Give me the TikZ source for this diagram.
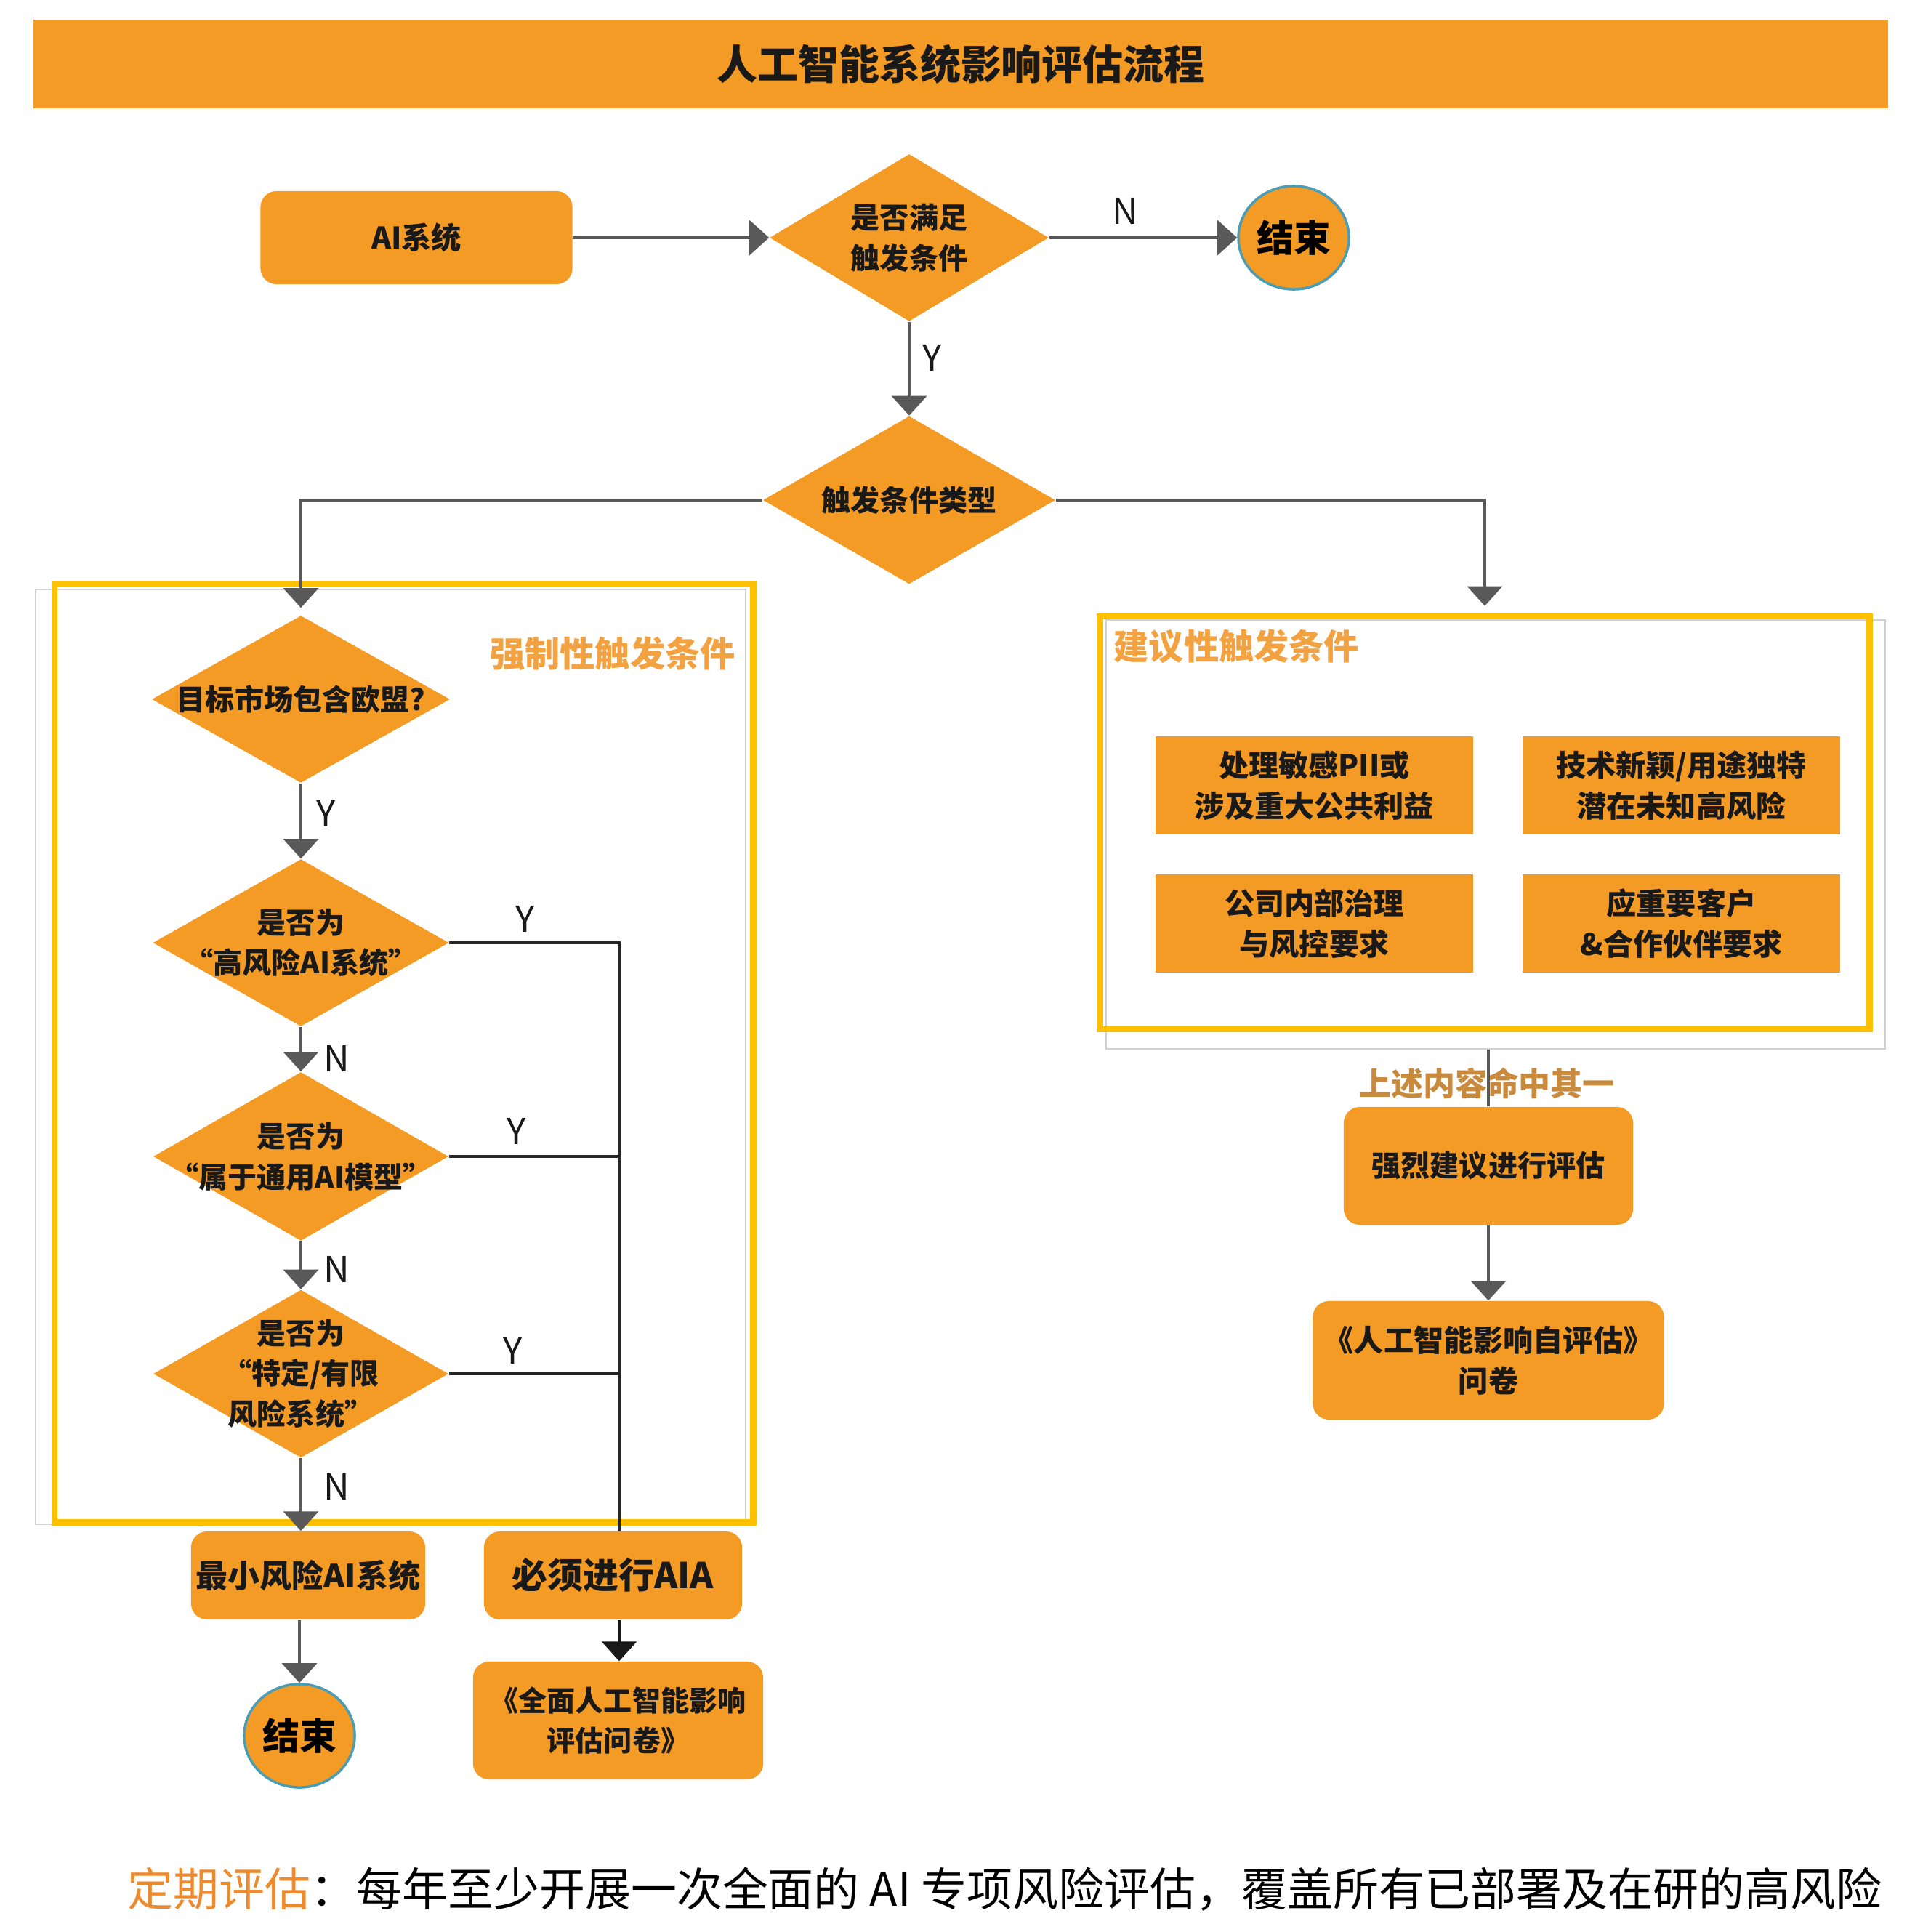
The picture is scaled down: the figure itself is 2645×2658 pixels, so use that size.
\documentclass[tikz,border=0pt]{standalone}
\usepackage{fontspec}
\setmainfont{Noto Sans CJK SC}
\usetikzlibrary{shapes.geometric,arrows.meta}
\definecolor{org}{HTML}{F39B25}
\definecolor{yel}{HTML}{FFC000}
\definecolor{arrc}{HTML}{595959}
\definecolor{ringc}{HTML}{4A9DB5}
\definecolor{lblc}{HTML}{F2A240}
\definecolor{hitc}{HTML}{C98A3D}
\definecolor{footc}{HTML}{EE8A2E}
\newcommand\fsz[2]{\fontsize{#1}{#2}\selectfont}
\tikzset{
  diab/.style={diamond, fill=org, draw=none, inner sep=0pt},
  txt/.style={align=center, font=\fsz{11.4pt}{15.9pt}\bfseries, text=black!90, inner sep=0pt},
  rbox/.style={rectangle, rounded corners=0.22cm, fill=org, inner sep=0pt, align=center, text=black!90},
  sbox/.style={rectangle, fill=org, inner sep=0pt, align=center, minimum width=4.36cm, minimum height=1.34cm, font=\fsz{11.7pt}{16pt}\bfseries, text=black!90},
  endc/.style={ellipse, fill=org, draw=ringc, line width=1pt, minimum width=1.52cm, minimum height=1.42cm, inner sep=0pt, font=\fsz{14.5pt}{16pt}\bfseries},
  arrow/.style={draw=arrc, line width=1.1pt, -{Triangle[width=0.48cm,length=0.27cm]}},
  barrow/.style={draw=black!90, line width=0.9pt, -{Triangle[width=0.48cm,length=0.27cm]}},
  gline/.style={draw=arrc, line width=1.1pt},
  yline/.style={draw=black!85, line width=0.9pt},
  frame/.style={draw=yel, line width=2.4pt, inner sep=0pt},
  shadowbox/.style={draw=black!18, line width=0.6pt, inner sep=0pt},
  yn/.style={font=\fsz{14pt}{15pt}, text=black!90, inner sep=0pt},
}
\begin{document}
\begin{tikzpicture}[x=0.01cm,y=-0.01cm]
\useasboundingbox (0,0) rectangle (2645,2658);
% title
\node[fill=org, minimum width=25.50cm, minimum height=1.22cm, inner sep=0pt] (title) at (1322,88) {};
\node[font=\fsz{15.9pt}{18pt}\bfseries, inner sep=0pt, text=black!90] (titlet) at (title) {人工智能系统影响评估流程};
% frames
\node[shadowbox, minimum width=9.77cm, minimum height=12.86cm] (lsh) at (537.5,1454) {};
\node[frame, minimum width=9.61cm, minimum height=12.90cm] (lf) at (555.5,1449) {};
\node[shadowbox, minimum width=10.72cm, minimum height=5.90cm] (rsh) at (2058,1148) {};
\node[frame, minimum width=10.58cm, minimum height=5.68cm] (rf) at (2043,1132) {};
\node[font=\fsz{13.7pt}{16pt}\bfseries, text=lblc, inner sep=0pt] (mand) at (843,899) {强制性触发条件};
\node[font=\fsz{13.7pt}{16pt}\bfseries, text=lblc, inner sep=0pt, anchor=west] (sugg) at (1532,889) {建议性触发条件};
% top row
\node[rbox, minimum width=4.29cm, minimum height=1.28cm, font=\fsz{11.7pt}{16pt}\bfseries] (ai) at (573,327) {AI系统};
\node[diab, minimum width=3.84cm, minimum height=2.30cm] (d1) at (1251,327) {};
\node[txt] (d1t) at (d1) {是否满足\\触发条件};
\node[endc] (e1) at (1780,327) {结束};
\node[diab, minimum width=4.02cm, minimum height=2.31cm] (d2) at (1251,688) {};
\node[txt] (d2t) at (d2) {触发条件类型};
% left column
\node[diab, minimum width=4.10cm, minimum height=2.30cm] (d3) at (414,962) {};
\node[txt] (d3t) at (d3) {目标市场包含欧盟?};
\node[diab, minimum width=4.07cm, minimum height=2.30cm] (d4) at (414,1297) {};
\node[txt] (d4t) at (d4) {是否为\\“高风险AI系统”};
\node[diab, minimum width=4.06cm, minimum height=2.32cm] (d5) at (414,1591) {};
\node[txt] (d5t) at (d5) {是否为\\“属于通用AI模型”};
\node[diab, minimum width=4.06cm, minimum height=2.31cm] (d6) at (414,1890) {};
\node[txt] (d6t) at (d6) {是否为\\“特定/有限\\风险系统”};
\node[rbox, minimum width=3.22cm, minimum height=1.21cm, font=\fsz{12.5pt}{16pt}\bfseries] (minb) at (424,2167.5) {最小风险AI系统};
\node[rbox, minimum width=3.55cm, minimum height=1.21cm, font=\fsz{13.9pt}{16pt}\bfseries] (aia) at (843.5,2167.5) {必须进行AIA};
\node[endc] (e2) at (412,2388) {结束};
\node[rbox, minimum width=3.99cm, minimum height=1.62cm, font=\fsz{11.1pt}{15.9pt}\bfseries] (q1) at (850.5,2367) {《全面人工智能影响\\评估问卷》};
% right column
\node[sbox] (b1) at (1808.5,1080.5) {处理敏感PII或\\涉及重大公共利益};
\node[sbox] (b2) at (2313.5,1080.5) {技术新颖/用途独特\\潜在未知高风险};
\node[sbox] (b3) at (1808.5,1270.5) {公司内部治理\\与风控要求};
\node[sbox] (b4) at (2313.5,1270.5) {应重要客户\\\&合作伙伴要求};
\node[font=\fsz{12.5pt}{16pt}\bfseries, text=hitc, inner sep=0pt] (hit) at (2046,1490) {上述内容命中其一};
\node[rbox, minimum width=3.98cm, minimum height=1.62cm, font=\fsz{11.4pt}{16pt}\bfseries] (strong) at (2048,1604) {强烈建议进行评估};
\node[rbox, minimum width=4.83cm, minimum height=1.63cm, font=\fsz{11.7pt}{15.9pt}\bfseries] (q2) at (2048,1871.5) {《人工智能影响自评估》\\问卷};
% connectors
\draw[arrow] (ai) -- (d1);
\draw[arrow] (d1) -- (e1);
\node[yn] (n1) at (1548,290) {N};
\draw[arrow] (d1) -- (d2);
\node[yn] (y1) at (1283,492) {Y};
\draw[arrow, shorten >=0.1cm] (d2.west) -| (d3.north);
\draw[arrow, shorten >=0.1cm] (d2.east) -| (rf.north);
\draw[arrow] (d3) -- (d4);
\node[yn] (y2) at (449,1119) {Y};
\draw[arrow] (d4) -- (d5);
\node[yn] (n2) at (463,1456) {N};
\draw[arrow] (d5) -- (d6);
\node[yn] (n3) at (463,1746) {N};
\draw[arrow] (d6.south) -- (d6.south |- minb.north);
\node[yn] (n4) at (463,2045) {N};
\draw[arrow] (minb.south -| e2) -- (e2);
\coordinate (bus) at (852,1297);
\draw[yline] (d4.east) -- (bus) -- (bus |- aia.north);
\draw[yline] (d5.east) -- (d5.east -| bus);
\draw[yline] (d6.east) -- (d6.east -| bus);
\node[yn] (y3) at (723,1264) {Y};
\node[yn] (y4) at (711,1556) {Y};
\node[yn] (y5) at (706,1858) {Y};
\draw[barrow] (aia.south -| bus) -- (bus |- q1.north);
\draw[gline] (rsh.south -| strong) -- (strong.north);
\draw[arrow] (strong) -- (q2);
% footer
\node[anchor=west, inner sep=0pt, font=\fsz{17.9pt}{20pt}] (foot) at (175,2599) {\textcolor{footc}{定期评估}：每年至少开展一次全面的 AI 专项风险评估，覆盖所有已部署及在研的高风险};
\end{tikzpicture}
\end{document}
